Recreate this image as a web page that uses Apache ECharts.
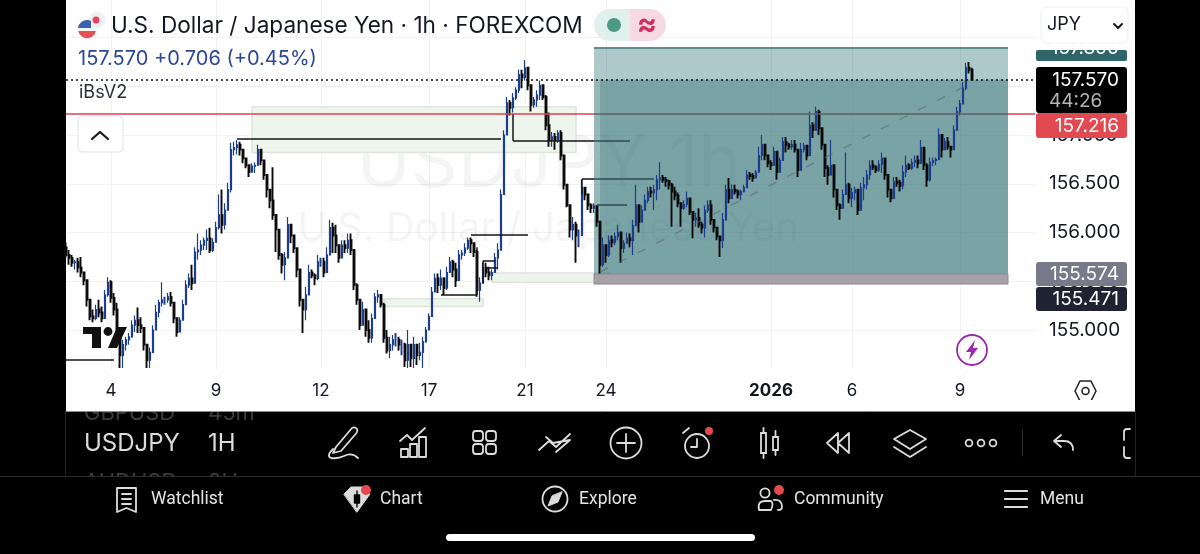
<!DOCTYPE html>
<html>
<head>
<meta charset="utf-8">
<style>html,body{margin:0;padding:0;background:#000}#chart{width:1200px;height:554px}</style>
<script src="https://cdn.jsdelivr.net/npm/echarts@6/dist/echarts.min.js"></script>
</head>
<body>
<div id="chart"></div>
<script>
// USD/JPY hourly session: each bar opens at the previous close.
const highs = [
155.90,155.82,155.77,155.72,155.74,155.75,155.59,155.51,155.28,155.21,
155.26,155.31,155.24,155.41,155.54,155.51,155.38,155.28,155.00,154.90,
154.93,154.97,155.10,155.15,155.23,155.13,155.00,154.85,154.82,155.05,
155.26,155.31,155.49,155.34,155.38,155.39,155.26,155.10,155.13,155.31,
155.51,155.58,155.67,155.85,155.99,155.92,155.95,156.03,156.05,155.94,
156.11,156.39,156.44,156.30,156.51,156.92,156.93,156.95,156.93,156.85,
156.76,156.69,156.71,156.72,156.90,156.79,156.74,156.56,156.44,156.67,
156.18,155.97,155.79,155.80,156.16,156.08,155.92,155.84,155.62,155.31,
155.44,155.67,155.62,155.58,155.77,155.74,155.74,155.85,156.13,156.10,
156.08,155.85,155.92,155.92,155.99,155.99,155.79,155.48,155.31,155.29,
155.13,155.10,155.17,155.38,155.41,155.36,155.28,155.00,154.93,154.95,
154.97,154.93,154.90,154.87,155.00,154.83,154.93,154.83,154.87,154.93,
155.03,155.17,155.44,155.58,155.58,155.62,155.54,155.65,155.75,155.72,
155.69,155.82,155.82,155.89,155.95,155.95,155.89,155.82,155.54,155.69,
155.69,155.65,155.62,155.79,155.89,156.44,157.05,157.39,157.36,157.43,
157.49,157.67,157.67,157.77,157.67,157.51,157.39,157.46,157.56,157.51,
157.41,157.23,157.03,157.02,157.05,157.05,156.79,156.49,156.28,156.16,
156.11,156.03,156.54,156.46,156.39,156.30,156.30,156.26,156.11,155.95,
155.85,155.97,155.97,156.00,156.08,156.00,155.92,156.00,155.99,156.13,
156.49,156.23,156.28,156.39,156.47,156.47,156.49,156.59,156.72,156.59,
156.57,156.54,156.51,156.47,156.41,156.30,156.33,156.42,156.30,156.21,
156.20,156.25,156.11,156.28,156.33,156.33,156.11,156.03,155.96,156.20,
156.49,156.56,156.49,156.49,156.44,156.44,156.49,156.64,156.62,156.61,
156.64,156.88,157.00,156.88,156.79,156.74,156.88,156.83,156.77,156.98,
156.98,156.92,156.95,156.95,156.85,156.92,156.92,156.89,157.24,157.13,
157.29,157.26,157.07,156.90,156.69,156.95,156.69,156.44,156.30,156.44,
156.82,156.51,156.46,156.47,156.44,156.51,156.57,156.64,156.74,156.74,
156.69,156.74,156.82,156.76,156.59,156.44,156.57,156.57,156.54,156.69,
156.79,156.71,156.76,156.79,156.79,156.95,156.87,156.71,156.77,156.77,
156.77,157.07,157.00,156.97,156.98,156.88,157.10,157.29,157.36,157.54,157.74,157.75,157.69
];
const lows = [
155.74,155.67,155.65,155.62,155.59,155.54,155.46,155.24,155.10,155.08,
155.10,155.13,155.08,155.12,155.34,155.28,155.15,154.95,154.61,154.61,
154.79,154.85,154.92,154.98,154.97,154.97,154.79,154.61,154.61,154.77,
155.00,155.13,155.24,155.26,155.28,155.24,155.07,154.93,155.05,155.10,
155.26,155.43,155.41,155.65,155.72,155.77,155.82,155.82,155.79,155.80,
155.92,156.03,155.99,156.03,156.28,156.41,156.79,156.80,156.79,156.71,
156.66,156.57,156.62,156.61,156.69,156.69,156.54,156.36,156.25,156.13,
155.80,155.72,155.58,155.51,155.87,155.89,155.79,155.54,155.24,154.97,
155.10,155.41,155.53,155.46,155.51,155.65,155.54,155.67,155.85,155.79,
155.79,155.69,155.77,155.79,155.79,155.77,155.41,155.26,155.00,155.07,
154.93,154.87,154.87,155.15,155.28,155.23,154.87,154.76,154.71,154.79,
154.83,154.79,154.74,154.62,154.61,154.62,154.61,154.64,154.69,154.61,
154.87,155.00,155.14,155.39,155.38,155.41,155.36,155.41,155.59,155.54,
155.44,155.51,155.72,155.76,155.82,155.79,155.75,155.34,155.29,155.48,
155.54,155.51,155.51,155.59,155.62,155.82,156.39,157.00,157.20,157.23,
157.36,157.43,157.48,157.56,157.46,157.24,157.28,157.29,157.36,157.36,
157.05,156.88,156.88,156.85,156.92,156.74,156.44,156.26,155.95,155.92,
155.69,155.85,155.97,156.33,156.23,156.20,156.20,156.06,155.58,155.65,
155.69,155.75,155.85,155.87,155.92,155.69,155.79,155.89,155.85,155.77,
156.10,156.00,156.11,156.23,156.30,156.36,156.23,156.33,156.44,156.51,
156.47,156.44,156.06,156.33,156.26,156.06,156.23,156.26,156.18,155.94,
156.06,156.05,155.99,155.95,156.20,156.08,156.00,155.92,155.75,155.84,
156.13,156.30,156.35,156.39,156.35,156.33,156.41,156.46,156.54,156.52,
156.56,156.62,156.74,156.74,156.67,156.64,156.69,156.54,156.62,156.74,
156.82,156.85,156.85,156.82,156.57,156.64,156.82,156.74,156.79,156.97,
157.05,157.00,156.85,156.57,156.49,156.64,156.36,156.23,156.13,156.25,
156.44,156.30,156.26,156.33,156.18,156.23,156.33,156.44,156.54,156.64,
156.61,156.62,156.61,156.54,156.36,156.31,156.35,156.47,156.42,156.44,
156.57,156.64,156.64,156.67,156.66,156.71,156.64,156.47,156.52,156.68,
156.69,156.74,156.77,156.85,156.85,156.77,156.85,157.05,157.20,157.32,157.46,157.63,157.56
];
const closes = [
155.77,155.74,155.69,155.70,155.64,155.59,155.51,155.31,155.14,155.12,
155.21,155.18,155.12,155.36,155.49,155.33,155.21,155.00,154.74,154.85,
154.90,154.93,155.05,155.10,155.05,155.02,154.85,154.69,154.77,155.00,
155.18,155.28,155.31,155.31,155.34,155.28,155.12,154.98,155.10,155.26,
155.46,155.53,155.48,155.80,155.82,155.87,155.92,155.94,155.82,155.90,
156.05,156.18,156.08,156.23,156.44,156.85,156.87,156.90,156.85,156.76,
156.69,156.62,156.68,156.69,156.85,156.74,156.59,156.44,156.33,156.18,
156.03,155.77,155.67,155.74,156.08,155.97,155.84,155.62,155.31,155.21,
155.36,155.59,155.56,155.53,155.70,155.70,155.59,155.77,156.05,155.97,
155.87,155.74,155.87,155.84,155.92,155.82,155.46,155.31,155.05,155.21,
155.00,154.92,155.12,155.34,155.36,155.26,154.92,154.79,154.85,154.90,
154.90,154.85,154.85,154.69,154.85,154.71,154.85,154.74,154.77,154.88,
155.00,155.14,155.39,155.53,155.46,155.53,155.43,155.59,155.70,155.62,
155.51,155.77,155.79,155.84,155.92,155.89,155.80,155.41,155.48,155.64,
155.59,155.56,155.59,155.74,155.82,156.39,157.00,157.33,157.28,157.38,
157.46,157.62,157.59,157.69,157.51,157.31,157.36,157.41,157.51,157.39,
157.10,156.95,156.98,156.95,157.02,156.79,156.49,156.28,156.03,156.08,
155.97,155.97,156.46,156.39,156.28,156.25,156.27,156.11,155.67,155.87,
155.77,155.92,155.90,155.96,156.00,155.84,155.89,155.94,155.92,156.07,
156.28,156.11,156.23,156.33,156.42,156.41,156.44,156.54,156.56,156.54,
156.53,156.49,156.42,156.38,156.30,156.25,156.29,156.35,156.21,156.13,
156.15,156.08,156.05,156.23,156.28,156.13,156.05,155.96,155.92,156.13,
156.44,156.35,156.44,156.42,156.39,156.42,156.46,156.59,156.58,156.56,
156.62,156.79,156.90,156.79,156.71,156.69,156.83,156.62,156.74,156.93,
156.90,156.88,156.90,156.85,156.64,156.85,156.89,156.79,157.10,157.05,
157.24,157.07,156.90,156.66,156.59,156.69,156.44,156.28,156.25,156.39,
156.49,156.35,156.41,156.44,156.23,156.46,156.49,156.59,156.69,156.67,
156.64,156.70,156.76,156.59,156.44,156.35,156.52,156.51,156.48,156.62,
156.69,156.66,156.72,156.74,156.71,156.87,156.69,156.54,156.72,156.74,
156.75,157.00,156.85,156.93,156.88,156.85,157.05,157.24,157.32,157.48,157.69,157.67,157.57
];
const firstOpen = 155.85;

// Date ticks: bar slot -> day label
const slotCount = 324;
const tickSlots = [15, 50, 85, 121, 153, 180, 235, 262, 298];
const tickLabels = ['4', '9', '12', '17', '21', '24', '2026', '6', '9'];

// Prices of the horizontal levels
const lastPrice = 157.570;
const alertPrice = 157.216;
const targetPrice = 157.890;
const entryPrice = 155.574;
const stopPrice = 155.471;

// Position box and zones: [slot from, price from, slot to, price to]
const rewardZone = [176, entryPrice, 314, lastPrice];
const openProfitZone = [176, lastPrice, 314, targetPrice];
const riskZone = [176, stopPrice, 314, entryPrice];
const boxEdgeStrip = [176, entryPrice, 178, lastPrice];
const demandZones = [
  [62, 157.29, 170, 156.82],
  [106, 155.32, 139, 155.24],
  [142, 155.585, 181, 155.49]
];

// Structure lines: [slot, price, slot, price]
const structureLines = [
  [57, 156.96, 145, 156.96],
  [149, 157.22, 149, 156.94],
  [149, 156.94, 176, 156.94],
  [135, 155.98, 154, 155.98],
  [137, 155.85, 137, 155.36],
  [125, 155.36, 137, 155.36],
  [139, 155.71, 143, 155.71],
  [139, 155.71, 139, 155.48],
  [140, 155.64, 144, 155.64],
  [172, 156.55, 176, 156.55],
  [172, 156.55, 172, 156.39],
  [0, 154.69, 16, 154.69]
];
const boxedLines = [
  [176, 156.94, 188, 156.94],
  [176, 156.55, 196, 156.55],
  [177, 156.28, 187, 156.28]
];
const trendLine = [178, 155.595, 301, 157.52];

const categories = Array.from({ length: slotCount }, (_, i) => 'h' + i);
const tickMap = {};
tickSlots.forEach((s, k) => { tickMap[s] = tickLabels[k]; });
const isTick = i => tickMap[i] !== undefined;

// Rising bars are drawn finer than falling ones
const candles = closes.map((c, i) => {
  const o = i === 0 ? firstOpen : closes[i - 1];
  return {
    value: [o, c, Math.min(lows[i], o, c), Math.max(highs[i], o, c)],
    itemStyle: { borderWidth: c > o ? 1.2 : 1.9 }
  };
});

const seg = (s, style) => [
  { coord: [s[0], s[1]], lineStyle: style },
  { coord: [s[2], s[3]] }
];
const area = (a, style) => [
  { coord: [a[0], a[1]], itemStyle: style },
  { coord: [a[2], a[3]] }
];

// Interface elements around the plot
const FONT = 'Inter, "Noto Sans", sans-serif';
const NAV = 'Roboto, Inter, sans-serif';
const g = [];
let pathCount = 0;
const R = (x, y, w, h, fill, z, extra) => g.push(Object.assign({
  type: 'rect', silent: true, z, shape: { x, y, width: w, height: h, r: (extra && extra.r) || 0 },
  style: { fill, stroke: extra && extra.stroke, lineWidth: extra && extra.lw }
}));
const C = (cx, cy, r, fill, z, stroke, lw) => g.push({
  type: 'circle', silent: true, z, shape: { cx, cy, r }, style: { fill, stroke, lineWidth: lw }
});
const P = (d, z, stroke, lw, fill) => {
  const name = 'uiPath' + (pathCount++);
  echarts.graphic.registerShape(name, echarts.graphic.extendPath(d));
  g.push({
    type: name, silent: true, z,
    style: { fill: fill || 'none', stroke: stroke === undefined ? '#dcdcdc' : stroke, lineWidth: lw === undefined ? 1.8 : lw, lineJoin: 'round', lineCap: 'round' }
  });
};
const T = (text, x, y, size, fill, z, opt) => g.push({
  type: 'text', silent: true, z, x, y,
  style: Object.assign({ text, fill, fontSize: size, fontFamily: FONT, textAlign: 'left', textVerticalAlign: 'middle' }, opt || {})
});

// plot background and watermark
R(66, 0, 1069, 411, '#ffffff', -1);
T('USDJPY 1h', 549, 165, 73, 'rgba(30,40,60,0.05)', 0.5, { textAlign: 'center' });
T('U.S. Dollar / Japanese Yen', 548, 229, 40, 'rgba(30,40,60,0.05)', 0.5, { textAlign: 'center' });
// time-scale strip
R(66, 369, 1069, 42, '#ffffff', 1);

// header
C(97, 20, 8.5, '#eef0f6', 3);
C(96, 20, 3.5, '#e4475a', 3);
C(87, 29, 9, '#f4f4f4', 3);
P('M78.2 31 A9 9 0 0 0 95.8 31 Z', 3, 'none', 0, '#e4505a');
P('M78 28 A9 9 0 0 1 91 21 V28 Z', 3, 'none', 0, '#3d5fb4');
T('U.S. Dollar / Japanese Yen · 1h · FOREXCOM', 111, 26, 22.6, '#131722', 3);
T('157.570 +0.706 (+0.45%)', 78, 59, 20, '#2b479b', 3);
T('iBsV2', 79, 93, 18, '#2a2e39', 3);
R(78, 116, 45, 36, '#ffffff', 3, { r: 4, stroke: '#e0e3eb', lw: 1 });
P('M92 139 L100 132 L108 139', 4, '#131722', 2.2);
// status pill
P('M630 9 H610 A16 16 0 0 0 610 41 H630 Z', 3, 'none', 0, '#e0f0ec');
P('M630 9 H650 A16 16 0 0 1 650 41 H630 Z', 3, 'none', 0, '#f6d9e3');
C(614, 25, 7, '#4a9a84', 4);
T('≈', 647, 25, 30, '#d0305f', 4, { textAlign: 'center', fontWeight: 'bold' });
// currency selector
R(1041, 7, 87, 36, '#ffffff', 21, { r: 6, stroke: '#eceef2', lw: 1 });
T('JPY', 1047, 25, 18, '#131722', 22);
P('M1114 24 L1118 28 L1122 24', 22, '#131722', 2);

// price tags
R(1036, 50, 91, 11, '#2f6468', 20, { r: 2 });
T('157.890', 1119, 48, 19, '#ffffff', 21, { textAlign: 'right' });
R(1036, 67, 91, 46, '#000000', 20, { r: 3 });
T('157.570', 1119, 80, 19, '#ffffff', 21, { textAlign: 'right' });
T('44:26', 1049, 101, 19, '#b4b4b4', 21);
R(1036, 113, 91, 25, '#e24a52', 20, { r: 3 });
T('157.216', 1119, 126, 19, '#ffffff', 21, { textAlign: 'right' });
R(1036, 262, 91, 24, '#777a88', 20, { r: 3 });
T('155.574', 1119, 274, 19, '#ffffff', 21, { textAlign: 'right' });
R(1036, 287, 91, 24, '#1f2230', 20, { r: 3 });
T('155.471', 1119, 299, 19, '#ffffff', 21, { textAlign: 'right' });

// logo mark and flash badge
P('M83 327 H101 V348 H92 V334 H83 Z', 3, 'none', 0, '#111111');
C(108, 331.5, 4.4, '#111111', 3);
P('M117 327 H127 L117 348 H108 Z', 3, 'none', 0, '#111111');
C(972, 350, 15, 'none', 3, '#9c27b0', 1.8);
P('M975 340 L966 352 H971 L969 360 L978 348 H973 Z', 3, 'none', 0, '#9c27b0');
// scale settings
P('M1075 391 L1080 381 H1091 L1096 391 L1091 401 H1080 Z', 11, '#222222', 1.6);
C(1085.5, 391, 3.5, 'none', 11, '#222222', 1.6);

// toolbar panel
R(0, 411, 1200, 143, '#000000', 30);
T('GBPUSD', 84, 413, 22, '#3c3c3c', 31);
T('45m', 208, 413, 22, '#3c3c3c', 31);
T('AUDUSD', 84, 482, 22, '#3c3c3c', 31);
T('2H', 208, 482, 22, '#3c3c3c', 31);
R(66, 400, 1069, 11, '#ffffff', 32);
P('M66 411.5 H1135', 33, '#8c8c8c', 1);
R(0, 477, 1200, 77, '#000000', 32);
P('M0 476.5 H1200', 33, '#2c2c2c', 1);
P('M65.5 412 V476 M1135.5 412 V476', 33, '#222222', 1);

T('USDJPY', 84, 444, 24, '#dcdcdc', 33);
T('1H', 208, 444, 24, '#dcdcdc', 33);

// drawing tools
P('M336 447 L352 428 Q355 426.5 357 429 Q358 431 356.5 433 L341 451 L333 453 Z', 33);
P('M333 449 Q326 456 331 458 Q338 459 344 456 Q352 452 358 458', 33);
P('M401 449 H408 V457 H401 Z M410 444 H417 V457 H410 Z M419 437 H426 V457 H419 Z', 33);
P('M400 441 L407 435 L412 440 L425 428', 33);
[[473, 431], [486, 431], [473, 444], [486, 444]].forEach(p => R(p[0], p[1], 10, 10, 'none', 33, { r: 3, stroke: '#dcdcdc', lw: 1.8 }));
P('M539 450 L549 441 L556 447 L570 434 M546 437 L553 443 L570 440 L556 452', 33);
C(626, 443, 15.5, 'none', 33, '#dcdcdc', 1.8);
P('M626 434 V452 M617 443 H635', 33);
C(697, 446, 12, 'none', 33, '#dcdcdc', 1.8);
P('M697 439 V447 H691 M683 433 L689 428', 33);
C(709, 431, 4, '#e5484f', 33);
R(761, 433, 5, 20, 'none', 33, { stroke: '#dcdcdc', lw: 1.8 });
R(773, 437, 5, 13, 'none', 33, { stroke: '#dcdcdc', lw: 1.8 });
P('M763.5 428 V433 M763.5 453 V458 M775.5 431 V437 M775.5 450 V455', 33);
P('M838 433 L827 443 L838 453 Z M849 433 L838 443 L849 453 Z', 33);
P('M910 430 L926 439 L910 449 L894 439 Z M894 447 L910 457 L926 447', 33);
C(969, 443, 3.4, 'none', 33, '#dcdcdc', 1.8);
C(981, 443, 3.4, 'none', 33, '#dcdcdc', 1.8);
C(993, 443, 3.4, 'none', 33, '#dcdcdc', 1.8);
P('M1022.5 430 V456', 33, '#2e2e2e', 1);
P('M1073 450 Q1073 441 1064 441 H1055 M1061 435 L1054 441 L1061 447', 33);
P('M1130 429 H1127 Q1124 429 1124 432 V440 M1124 447 V455 Q1124 458 1127 458 H1130', 33);

// bottom navigation
P('M117 488 H136 V512 L126.5 508 L117 512 Z', 33);
P('M122 494 H131 M122 499 H131 M122 504 H131', 33);
T('Watchlist', 151, 500, 17.5, '#e4e4e4', 33, { fontFamily: NAV });
P('M344 494 L351 487 H363 L370 494 L357 512 Z', 33, '#dcdcdc', 1, '#dcdcdc');
P('M357 491 V507 M354.5 495 H359.5 V503 H354.5 Z', 34, '#000000', 1.4, '#000000');
C(366, 490, 5, '#e5484f', 34);
T('Chart', 380, 500, 17.5, '#e4e4e4', 33, { fontFamily: NAV });
C(555, 499, 12.5, 'none', 33, '#dcdcdc', 1.8);
P('M562 492 L558 502 L548 506 L552 496 Z', 33, '#dcdcdc', 1, '#dcdcdc');
T('Explore', 579, 500, 17.5, '#e4e4e4', 33, { fontFamily: NAV });
C(765, 493, 4.6, 'none', 33, '#dcdcdc', 1.8);
P('M759 510 Q757 501 765 501 H771 Q774 503 771 510 Z M774 500 Q782 499 782 507 Q782 510 778 510', 33);
C(779, 490, 5, '#e5484f', 34);
T('Community', 794, 500, 17.5, '#e4e4e4', 33, { fontFamily: NAV });
P('M1005 491 H1027 M1005 499 H1027 M1005 507 H1027', 33, '#dcdcdc', 2.2);
T('Menu', 1040, 500, 17.5, '#e4e4e4', 33, { fontFamily: NAV });
R(446, 534, 309, 7, '#ffffff', 33, { r: 3.5 });

const chart = echarts.init(document.getElementById('chart'), null, { renderer: 'canvas' });
chart.setOption({
  animation: false,
  backgroundColor: '#000000',
  graphic: { elements: g },
  grid: { left: 66, width: 969, top: -11.25, height: 390, containLabel: false, outerBoundsMode: 'none' },
  xAxis: [
    {
      type: 'category', data: categories, boundaryGap: false,
      axisLine: { show: false }, axisTick: { show: false }, axisLabel: { show: false },
      splitLine: { show: true, interval: isTick, lineStyle: { color: '#f1f2f4', width: 1 } }
    },
    {
      type: 'category', data: categories, boundaryGap: false, position: 'bottom', z: 10,
      axisLine: { show: false }, axisTick: { show: false }, splitLine: { show: false },
      axisLabel: {
        show: true, interval: isTick, margin: 4, hideOverlap: false,
        color: '#131722', fontSize: 17, fontFamily: FONT,
        formatter: (v, i) => {
          const t = tickMap[i];
          return t === undefined ? '' : (t.length === 4 ? '{y|' + t + '}' : t);
        },
        rich: { y: { fontWeight: 'bold', fontSize: 17, fontFamily: FONT, color: '#131722' } }
      }
    }
  ],
  yAxis: {
    type: 'value', position: 'right', min: 154.5, max: 158.5, interval: 0.5,
    axisLine: { show: false }, axisTick: { show: false },
    splitLine: { show: true, showMinLine: false, lineStyle: { color: '#f1f2f4', width: 1 } },
    axisLabel: {
      margin: 14, color: '#131722', fontSize: 19, fontFamily: FONT, padding: [2, 0, 0, 0],
      showMinLabel: false, showMaxLabel: false,
      formatter: v => (v >= 158 ? '' : v.toFixed(3))
    }
  },
  series: [{
    type: 'candlestick',
    data: candles,
    barWidth: 2.2,
    clip: true,
    itemStyle: { color: '#1c3c8c', color0: '#0a0a0a', borderColor: '#1c3c8c', borderColor0: '#0a0a0a', borderWidth: 1.4 },
    markArea: {
      silent: true,
      data: []
        .concat(demandZones.map(a => area(a, { color: '#eef5ec', borderColor: '#dde6db', borderWidth: 1.5 })))
        .concat([
          area(openProfitZone, { color: 'rgba(24,100,104,0.35)', borderWidth: 0 }),
          area(rewardZone, { color: 'rgba(26,96,101,0.58)', borderWidth: 0 }),
          area(boxEdgeStrip, { color: 'rgba(255,255,255,0.22)', borderWidth: 0 }),
          area(riskZone, { color: '#a5a1a7', borderColor: '#8e8a91', borderWidth: 1 })
        ])
    },
    markLine: {
      silent: true, symbol: 'none', label: { show: false }, precision: 6,
      lineStyle: { type: 'solid' },
      data: []
        .concat([seg([176, targetPrice, 314, targetPrice], { color: '#5f8d90', width: 2, type: 'solid' })])
        .concat(structureLines.map(s => seg(s, { color: '#151515', width: 1.5, type: 'solid' })))
        .concat(boxedLines.map(s => seg(s, { color: '#2c4b4f', width: 1.5, type: 'solid' })))
        .concat([
          seg(trendLine, { color: 'rgba(95,100,105,0.5)', width: 1.5, type: [9, 12] }),
          seg([0, lastPrice, 323, lastPrice], { color: '#111111', width: 1.5, type: [2, 3] }),
          seg([0, alertPrice, 176, alertPrice], { color: '#d9434d', width: 1.5, type: 'solid' }),
          seg([176, alertPrice, 314, alertPrice], { color: '#5c6065', width: 1.5, type: 'solid' }),
          seg([314, alertPrice, 323, alertPrice], { color: '#d9434d', width: 1.5, type: 'solid' })
        ])
    }
  }]
});
</script>
</body>
</html>
